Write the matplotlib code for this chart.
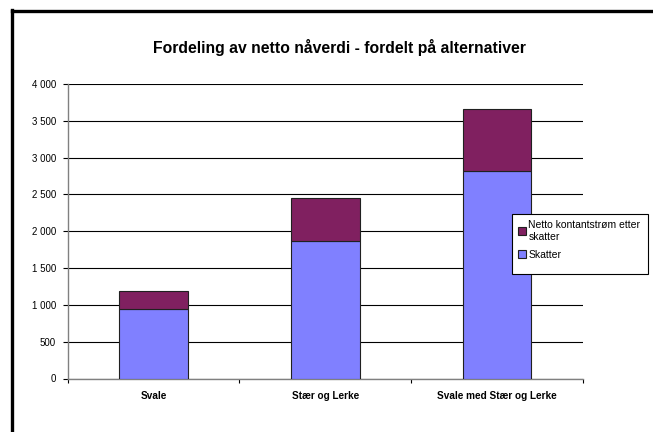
import matplotlib
matplotlib.use("Agg")
import matplotlib.pyplot as plt
from matplotlib.patches import Rectangle
from matplotlib.lines import Line2D
from matplotlib.ticker import FuncFormatter

plt.rcParams['font.family'] = ['Liberation Sans', 'DejaVu Sans']

categories = ['Svale', 'Stær og Lerke', 'Svale med Stær og Lerke']
skatter = [940, 1870, 2815]
netto = [255, 585, 845]
series_names = ['Netto kontantstrøm etter\nskatter', 'Skatter']
yticks = [0, 500, 1000, 1500, 2000, 2500, 3000, 3500, 4000]

col_skatter = '#8080FF'
col_netto = '#802060'

W, H = 653, 432
fig = plt.figure(figsize=(W / 100, H / 100), dpi=100)
ax = fig.add_axes([67.7 / W, 1 - 378.5 / H, 515 / W, 294.5 / H])

x = list(range(len(categories)))
ax.bar(x, skatter, width=0.4, color=col_skatter, edgecolor='#202020', linewidth=0.8, zorder=3)
ax.bar(x, netto, width=0.4, bottom=skatter, color=col_netto, edgecolor='#202020', linewidth=0.8, zorder=3)

ax.set_xlim(-0.5, 2.5)
ax.set_ylim(0, 4000)
ax.set_yticks(yticks)
ax.yaxis.set_major_formatter(FuncFormatter(lambda v, p: f"{int(v):,}".replace(',', ' ')))
ax.grid(axis='y', color='black', linewidth=0.8, zorder=0)
ax.set_axisbelow(True)

ax.set_xticks(x)
ax.set_xticklabels(categories, fontsize=7.2, fontweight='bold')
ax.set_xticks([-0.5, 0.5, 1.5, 2.5], minor=True)
ax.tick_params(axis='x', which='major', length=0, pad=9)
ax.tick_params(axis='x', which='minor', length=3, width=0.8, color='black', direction='out')
ax.tick_params(axis='y', length=3.5, width=0.8, color='black', labelsize=7, pad=5)

for s in ['top', 'right']:
    ax.spines[s].set_visible(False)
for s in ['left', 'bottom']:
    ax.spines[s].set_color('#808080')
    ax.spines[s].set_linewidth(1.0)

fig.text(339 / W, 1 - 48 / H, 'Fordeling av netto nåverdi - fordelt på alternativer',
         ha='center', va='center', fontsize=11.3, fontweight='bold')

# legend box drawn separately so its size can be set freely
fig.add_artist(Rectangle((512 / W, 1 - 274 / H), 136 / W, 60 / H, transform=fig.transFigure,
                         facecolor='white', edgecolor='black', linewidth=0.8, zorder=5))
handles = [Rectangle((0, 0), 1, 1, facecolor=col_netto, edgecolor='#202020', linewidth=0.8),
           Rectangle((0, 0), 1, 1, facecolor=col_skatter, edgecolor='#202020', linewidth=0.8)]
leg = fig.legend(handles, series_names, loc='upper left',
                 bbox_to_anchor=(518 / W, 1 - 220 / H), fontsize=7.5,
                 frameon=False, handlelength=0.75, handleheight=0.75, handletextpad=0.25,
                 borderpad=0, labelspacing=0.8, borderaxespad=0)
leg.set_zorder(6)

# outer chart frame
fig.add_artist(Line2D([11.5 / W, 11.5 / W], [0, 1 - 10 / H], color='black', linewidth=2.4,
                      transform=fig.transFigure, solid_capstyle='projecting'))
fig.add_artist(Line2D([11.5 / W, 1], [1 - 11 / H, 1 - 11 / H], color='black', linewidth=2.4,
                      transform=fig.transFigure, solid_capstyle='projecting'))

fig.savefig('out.png', dpi=100)
